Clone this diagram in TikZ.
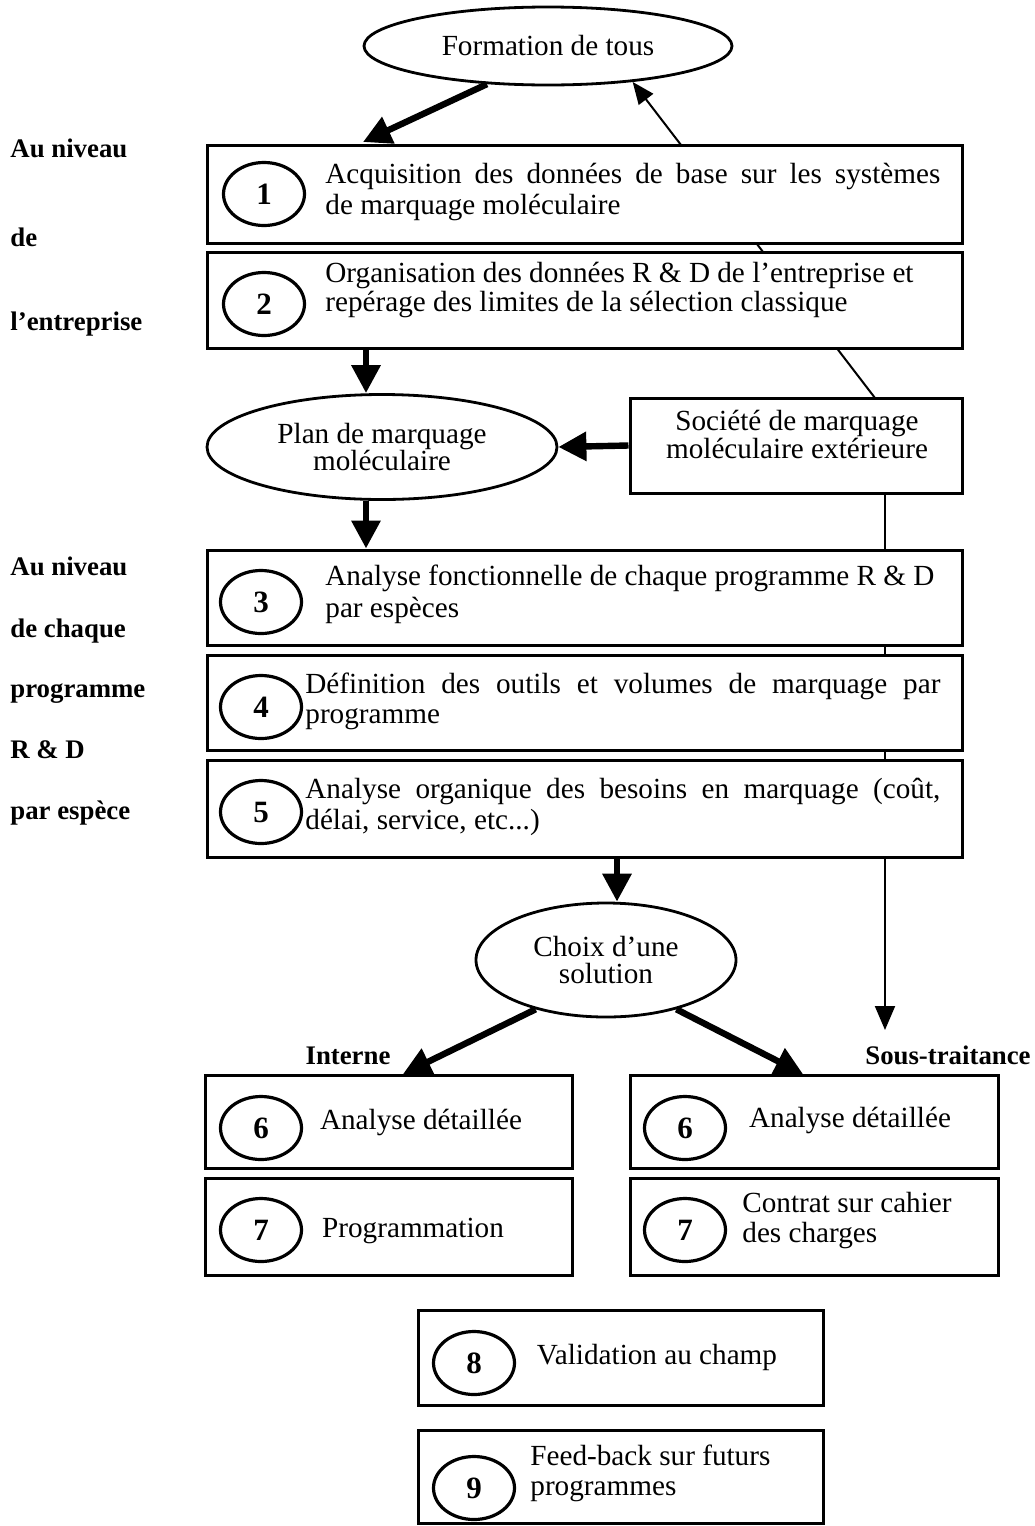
\documentclass[tikz,border=0pt]{standalone}
\usepackage{fontspec}
\setmainfont{Liberation Serif}
\usetikzlibrary{arrows.meta,shapes.geometric,backgrounds}

\begin{document}
\begin{tikzpicture}[x=0.5pt,y=-0.5pt,
    box/.style={draw,line width=1.5pt,fill=white,inner sep=0pt},
    oval/.style={draw,ellipse,line width=1.4pt,fill=white,inner sep=0pt,align=center,font=\fontsize{14.6}{13.5}\selectfont},
    num/.style={draw,ellipse,line width=1.6pt,fill=white,minimum width=40.5pt,minimum height=31.5pt,inner sep=0pt,font=\bfseries\fontsize{15.5}{15.5}\selectfont},
    txt/.style={inner sep=0pt,align=left,anchor=west,font=\fontsize{14.6}{15.5}\selectfont},
    side/.style={inner sep=0pt,anchor=base west,font=\bfseries\fontsize{13.4}{14}\selectfont},
    bigarrow/.style={line width=3.2pt,-{Triangle[length=14pt,width=14pt]}},
    thinline/.style={line width=1pt}]
    \useasboundingbox (0,0) rectangle (1034,1526);

    \coordinate (cA) at (366,0);
    \coordinate (cB) at (617,0);
    \coordinate (s1) at (875,398);
    \coordinate (s2) at (885,1030);
    \coordinate (c1) at (363,142);
    \coordinate (c2) at (403,1074);
    \coordinate (c3) at (803,1074);

    \node[oval,minimum width=184pt,minimum height=39pt] (form) at (548,46) {Formation de tous};

    % au niveau de l'entreprise
    \node[side] at (10,157) {Au niveau};
    \node[side] at (10,246) {de};
    \node[side] at (10,330) {l’entreprise};

    \node[box,minimum width=377.5pt,minimum height=49pt] (b1) at (584.5,194) {};
    \node[num] (n1) at (264,194) {1};
    \node[txt] (t1) at (325,191.5) {\makebox[307.5pt][s]{Acquisition des données de base sur les systèmes}\\de marquage moléculaire};

    \node[box,minimum width=377.5pt,minimum height=48pt] (b2) at (584.5,300) {};
    \node[num] (n2) at (264,304) {2};
    \node[txt,font=\fontsize{14.6}{13}\selectfont] (t2) at (325,290) {Organisation des données R \& D de l’entreprise et\\repérage des limites de la sélection classique};

    \node[oval,minimum width=175pt,minimum height=52.5pt] (plan) at (382,447) {Plan de marquage\\moléculaire};
    \node[box,minimum width=166pt,minimum height=47.5pt] (soc) at (796,445.5) {};
    \node[oval,draw=none,fill=none,font=\fontsize{14.6}{12.5}\selectfont] (tsoc) at (797,434.5) {Société de marquage\\moléculaire extérieure};

    % au niveau de chaque programme
    \node[side] at (10,575) {Au niveau};
    \node[side] at (10,637) {de chaque};
    \node[side] at (10,697) {programme};
    \node[side] at (10,758) {R \& D};
    \node[side] at (10,819) {par espèce};

    \node[box,minimum width=377.5pt,minimum height=47.5pt] (b3) at (584.5,597.5) {};
    \node[num] (n3) at (261,602) {3};
    \node[txt,font=\fontsize{14.6}{16}\selectfont] (t3) at (325,594) {Analyse fonctionnelle de chaque programme R \& D\\par espèces};

    \node[box,minimum width=377.5pt,minimum height=47.5pt] (b4) at (584.5,702.5) {};
    \node[num] (n4) at (261,707) {4};
    \node[txt,font=\fontsize{14.6}{15}\selectfont] (t4) at (305,701) {\makebox[317.5pt][s]{Définition des outils et volumes de marquage par}\\programme};

    \node[box,minimum width=377.5pt,minimum height=48.5pt] (b5) at (584.5,808.5) {};
    \node[num] (n5) at (261,812) {5};
    \node[txt] (t5) at (305,806.5) {\makebox[317.5pt][s]{Analyse organique des besoins en marquage (coût,}\\délai, service, etc...)};

    \node[oval,minimum width=130pt,minimum height=57pt] (choix) at (606,960) {Choix d’une\\solution};

    \node[side,anchor=base] at (348,1064) {Interne};
    \node[side,anchor=base east] at (1031,1064) {Sous-traitance};

    \node[box,minimum width=183.5pt,minimum height=46.5pt] (b6i) at (388.5,1121.5) {};
    \node[num] (n6i) at (261,1128) {6};
    \node[txt,anchor=center] (t6i) at (421,1122) {Analyse détaillée};

    \node[box,minimum width=183.5pt,minimum height=48.5pt] (b7i) at (388.5,1226.5) {};
    \node[num] (n7i) at (261,1230) {7};
    \node[txt,anchor=center] (t7i) at (413,1231) {Programmation};

    \node[box,minimum width=184pt,minimum height=46.5pt] (b6s) at (814,1121.5) {};
    \node[num] (n6s) at (685,1128) {6};
    \node[txt,anchor=center] (t6s) at (850,1120) {Analyse détaillée};

    \node[box,minimum width=184pt,minimum height=48.5pt] (b7s) at (814,1226.5) {};
    \node[num] (n7s) at (685,1230) {7};
    \node[txt,font=\fontsize{14.6}{15}\selectfont] (t7s) at (742,1221) {Contrat sur cahier\\des charges};

    \node[box,minimum width=202.5pt,minimum height=47.5pt] (b8) at (620.5,1357.5) {};
    \node[num] (n8) at (474,1363) {8};
    \node[txt,anchor=center] (t8) at (657,1357) {Validation au champ};

    \node[box,minimum width=202.5pt,minimum height=46.5pt] (b9) at (620.5,1477) {};
    \node[num] (n9) at (474,1488) {9};
    \node[txt,font=\fontsize{14.6}{15}\selectfont] (t9) at (530,1473) {Feed-back sur futurs\\programmes};

    \draw[bigarrow] (form.212) -- (c1);
    \draw[bigarrow] (b2.south -| cA) -- (plan.north -| cA);
    \draw[bigarrow] (soc.west) -- (plan.east);
    \draw[bigarrow] (plan.south -| cA) -- (b3.north -| cA);
    \draw[bigarrow] (b5.south -| cB) -- (choix.north -| cB);
    \draw[bigarrow] (choix.215) -- (c2);
    \draw[bigarrow] (choix.325) -- (c3);

    % lignes fines derriere les cadres
    \begin{scope}[on background layer]
    \draw[thinline,-{Triangle[length=11pt,width=9pt]}] (s1) -- (form.337);
    \draw[thinline,-{Triangle[length=12pt,width=10pt]}] (soc.south -| s2) -- (s2);
    \end{scope}
\end{tikzpicture}
\end{document}
